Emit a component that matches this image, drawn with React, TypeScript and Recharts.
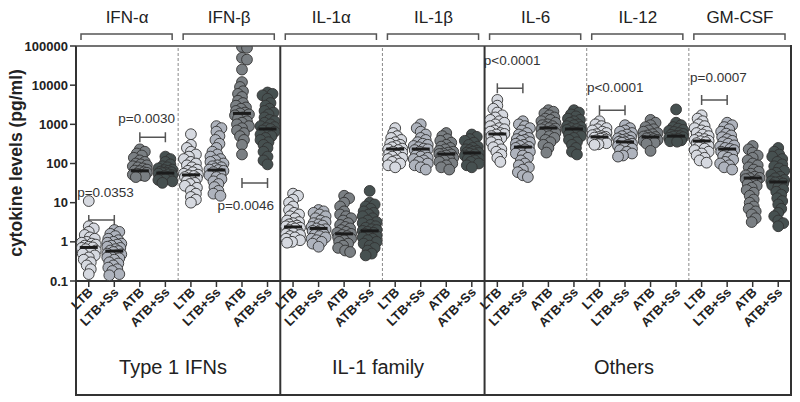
import React from 'react'
import { ScatterChart, Scatter, XAxis, YAxis, ReferenceLine } from 'recharts'

// Cytokine levels (pg/ml) per patient group.
// Each cytokine: [LTB, LTB+Ss, ATB, ATB+Ss]
const GROUPS = ['LTB', 'LTB+Ss', 'ATB', 'ATB+Ss']
const CYTOKINES = ['IFN-α', 'IFN-β', 'IL-1α', 'IL-1β', 'IL-6', 'IL-12', 'GM-CSF']
const FAMILIES = ['Type 1 IFNs', 'IL-1 family', 'Others']
const Y_TICKS = [0.1, 1, 10, 100, 1000, 10000, 100000]

const IFN_A = [
  [11, 2.5, 2.2, 1.8, 1.5, 1.3, 1.2, 1.0, 0.95, 0.9, 0.85, 0.8, 0.75, 0.72, 0.7, 0.65, 0.6, 0.55, 0.5, 0.45, 0.4, 0.35, 0.3, 0.25, 0.2, 0.15],
  [2.0, 1.8, 1.6, 1.4, 1.2, 1.1, 1.0, 0.95, 0.9, 0.85, 0.8, 0.75, 0.7, 0.65, 0.6, 0.58, 0.55, 0.5, 0.48, 0.45, 0.42, 0.4, 0.38, 0.35, 0.3, 0.28, 0.25, 0.22, 0.2, 0.18, 0.15, 0.14],
  [230, 200, 180, 160, 140, 120, 110, 100, 95, 90, 85, 80, 75, 70, 66, 64, 60, 58, 55, 52, 50, 48, 45],
  [150, 130, 110, 95, 85, 80, 75, 70, 68, 65, 62, 60, 58, 57, 55, 53, 50, 48, 45, 42, 40, 38, 35, 32],
]
const IFN_B = [
  [560, 300, 250, 200, 170, 150, 130, 110, 100, 90, 80, 70, 65, 60, 55, 52, 50, 48, 45, 42, 40, 36, 32, 30, 27, 24, 20, 17, 14, 12, 10],
  [900, 800, 650, 500, 400, 320, 250, 200, 170, 150, 130, 120, 110, 100, 90, 85, 80, 75, 70, 68, 65, 60, 55, 50, 45, 40, 35, 30, 25, 20, 17, 15],
  [95000, 90000, 50000, 45000, 25000, 12000, 9000, 7000, 6000, 5000, 4000, 3500, 3000, 2700, 2500, 2200, 2000, 1900, 1800, 1700, 1500, 1400, 1200, 1100, 1000, 900, 800, 700, 600, 500, 400, 300, 170],
  [6500, 6000, 5500, 4500, 3500, 3000, 2500, 2200, 2000, 1800, 1500, 1300, 1200, 1100, 1000, 900, 850, 800, 760, 700, 650, 600, 550, 500, 450, 400, 350, 300, 250, 200, 150, 120, 95],
]
const IL1A = [
  [17, 15, 12, 10, 8, 6.5, 5.5, 5, 4.5, 4, 3.5, 3.2, 3, 2.8, 2.6, 2.5, 2.4, 2.3, 2.2, 2, 1.8, 1.7, 1.6, 1.5, 1.4, 1.3, 1.2, 1.1, 1.0, 0.95],
  [6.5, 6, 5.5, 5, 4.5, 4, 3.5, 3.2, 3, 2.8, 2.6, 2.4, 2.2, 2.1, 2, 1.9, 1.8, 1.6, 1.5, 1.4, 1.3, 1.2, 1.1, 1.0, 0.9, 0.75],
  [15, 13, 10, 8, 6, 5, 4.5, 4, 3.5, 3, 2.7, 2.4, 2.2, 2, 1.8, 1.7, 1.6, 1.5, 1.4, 1.3, 1.2, 1.1, 1, 0.9, 0.8, 0.7, 0.6, 0.55],
  [20, 10, 9, 8, 7, 6, 5.5, 5, 4.5, 4, 3.5, 3.2, 3, 2.7, 2.5, 2.3, 2.1, 2, 1.9, 1.8, 1.7, 1.6, 1.5, 1.4, 1.3, 1.2, 1.1, 1, 0.9, 0.8, 0.7, 0.6, 0.5, 0.45],
]
const IL1B = [
  [800, 600, 500, 450, 400, 350, 320, 300, 280, 260, 240, 230, 220, 200, 190, 180, 160, 150, 140, 130, 120, 110, 100, 90, 80],
  [1000, 800, 650, 550, 450, 400, 350, 320, 300, 280, 260, 240, 230, 220, 200, 180, 160, 150, 140, 130, 120, 110, 100, 90, 80, 70],
  [600, 500, 420, 380, 340, 300, 270, 250, 230, 210, 200, 190, 180, 175, 170, 160, 150, 140, 130, 120, 110, 100, 90, 80, 70],
  [550, 480, 420, 380, 340, 300, 270, 250, 230, 220, 210, 200, 190, 186, 180, 170, 160, 150, 140, 130, 120, 110, 100, 90, 80],
]
const IL6 = [
  [4200, 3000, 2500, 2000, 1700, 1500, 1300, 1200, 1100, 1000, 900, 800, 750, 700, 650, 600, 570, 550, 500, 450, 400, 350, 300, 260, 230, 200, 170, 140, 110],
  [1200, 1000, 900, 800, 700, 600, 550, 500, 450, 420, 400, 380, 350, 320, 300, 280, 265, 250, 230, 210, 200, 180, 160, 140, 120, 100, 90, 80, 70, 60, 50, 45],
  [2300, 2100, 1900, 1700, 1500, 1400, 1300, 1200, 1100, 1000, 950, 900, 850, 800, 780, 750, 700, 650, 600, 550, 500, 450, 400, 350, 300, 250, 190],
  [2300, 2000, 1800, 1600, 1400, 1300, 1200, 1100, 1000, 950, 900, 850, 800, 760, 720, 680, 640, 600, 550, 500, 450, 400, 350, 300, 250, 200, 170],
]
const IL12 = [
  [1200, 1000, 900, 800, 750, 700, 650, 600, 560, 530, 500, 480, 470, 460, 450, 430, 410, 390, 370, 350, 330, 310, 300],
  [950, 800, 700, 650, 600, 550, 500, 470, 440, 420, 400, 380, 360, 350, 340, 320, 300, 280, 260, 240, 220, 200, 180, 160, 150],
  [1300, 1100, 950, 850, 750, 700, 650, 600, 560, 520, 490, 475, 460, 440, 420, 400, 380, 360, 340, 320, 210],
  [2400, 1100, 950, 850, 780, 720, 680, 640, 600, 570, 540, 510, 500, 490, 470, 450, 430, 410, 390, 370, 360],
]
const GMCSF = [
  [1700, 1400, 1200, 1000, 900, 800, 700, 650, 600, 550, 500, 450, 420, 400, 380, 370, 350, 330, 300, 280, 260, 240, 220, 200, 180, 160, 140, 120, 105],
  [1100, 950, 850, 750, 650, 580, 520, 470, 420, 380, 350, 320, 290, 270, 250, 235, 220, 200, 185, 170, 155, 140, 125, 110, 100, 90, 80, 70],
  [280, 230, 190, 160, 140, 120, 100, 90, 80, 70, 62, 55, 50, 46, 43, 42, 40, 37, 34, 30, 27, 24, 21, 18, 15, 12, 10, 8, 7, 6, 5, 4, 3.2],
  [250, 200, 170, 150, 130, 110, 95, 85, 75, 65, 58, 52, 46, 42, 38, 35, 34, 33, 31, 28, 25, 22, 19, 16, 13, 11, 9, 7, 5.5, 4.5, 3.5, 3, 2.5],
]
const ALL = [IFN_A, IFN_B, IL1A, IL1B, IL6, IL12, GMCSF]

// medians as drawn (black bars)
const MEDIANS = [
  [0.72, 0.58, 65, 57],
  [51, 68, 1900, 760],
  [2.4, 2.2, 1.6, 1.9],
  [234, 234, 174, 186],
  [566, 263, 805, 760],
  [475, 355, 475, 500],
  [375, 234, 42.6, 33.7],
]

// significance brackets: category indices and bracket level (pg/ml)
const P_TEXT = ['p=0.0353', 'p=0.0030', 'p=0.0046', 'p<0.0001', 'p<0.0001', 'p=0.0007']
const P_FROM = [0, 2, 6, 16, 20, 24]
const P_TO = [1, 3, 7, 17, 21, 25]
const P_LEVEL = [3.6, 470, 32, 8400, 2300, 4200]

// ---- layout ----
const W = 800
const H = 402
const PLOT_L = 76
const PLOT_T = 46
const PLOT_R = 791
const PLOT_B = 281
const BOX_B = 395
const N_CAT = 28
const CAT_W = (PLOT_R - PLOT_L) / N_CAT
const DECADE_PX = (PLOT_B - PLOT_T) / 6
const FONT = "Arial, 'Liberation Sans', Helvetica, sans-serif"
const FILLS = ['#d6d9e0', '#aeb3bd', '#7a7f83', '#465050']
const P_DX = [4, -6, -9, 2, 3, 4]
const P_DY = [-23, -14, 27, -23, -18, -18]
const FAMILY_X = [173, 378, 624]

const catX = (i: number) => PLOT_L + i * CAT_W

// simple deterministic beeswarm: returns horizontal offsets in px
function swarm(vals: number[]): number[] {
  const ys = vals.map((v) => -Math.log10(v) * DECADE_PX)
  const order = vals.map((_, i) => i).sort((a, b) => ys[a] - ys[b])
  const placed: { x: number; y: number }[] = []
  const out = new Array(vals.length).fill(0)
  const MIN = 5
  const STEP = 1
  const MAX = 7.5
  for (const i of order) {
    let best = 0
    let bestD = -1
    let found = false
    for (let k = 0; k * STEP <= MAX && !found; k++) {
      const cands = k === 0 ? [0] : k % 2 ? [k * STEP, -k * STEP] : [-k * STEP, k * STEP]
      for (const c of cands) {
        let d = Infinity
        for (const p of placed) d = Math.min(d, Math.hypot(p.x - c, p.y - ys[i]))
        if (d >= MIN) {
          best = c
          found = true
          break
        }
        if (d > bestD) {
          bestD = d
          best = c
        }
      }
    }
    placed.push({ x: best, y: ys[i] })
    out[i] = best
  }
  return out
}

const seriesData = GROUPS.map((_, g) =>
  ALL.flatMap((cyto, c) => {
    const vals = cyto[g]
    const offs = swarm(vals)
    return vals.map((v, i) => ({ x: c * 4 + g + 0.5 + offs[i] / CAT_W, y: v }))
  })
)

const medianData = MEDIANS.flatMap((m, c) => m.map((v, g) => ({ x: c * 4 + g + 0.5, y: v })))

const CAT_TICKS = Array.from({ length: N_CAT }, (_, i) => i + 0.5)

const XTick = (props: any) => {
  const { x, payload } = props
  const label = GROUPS[Math.floor(payload.value) % 4]
  const ax = x + 5
  const ay = PLOT_B + 12
  return (
    <text x={ax} y={ay} transform={`rotate(-45 ${ax} ${ay})`} textAnchor="end" fontSize={13} fontWeight="bold" fill="#222" fontFamily={FONT}>
      {label}
    </text>
  )
}

const dotShape = (fill: string) => (p: any) => (
  <circle cx={p.cx} cy={p.cy} r={5.4} fill={fill} stroke="#333" strokeWidth={0.9} />
)

const medianShape = (p: any) => <rect x={p.cx - 9} y={p.cy - 1.5} width={18} height={3} fill="#1b1b1b" />

const bracketShape = (idx: number) => (p: any) => {
  const { x1, y1, x2 } = p
  const cx = (x1 + x2) / 2
  return (
    <g>
      <path d={`M${x1},${y1 - 5}V${y1 + 5}M${x1},${y1}H${x2}M${x2},${y1 - 5}V${y1 + 5}`} stroke="#555" strokeWidth={1.5} fill="none" />
      <text x={cx + P_DX[idx]} y={y1 + P_DY[idx]} textAnchor="middle" fontSize={13.5} fill="#333" fontFamily={FONT}>
        {P_TEXT[idx]}
      </text>
    </g>
  )
}

export default function App() {
  return (
    <div style={{ position: 'absolute', left: 0, top: 0, width: W, height: H, background: '#fff', fontFamily: FONT }}>
      <ScatterChart width={W} height={H} margin={{ top: PLOT_T, right: W - PLOT_R, bottom: 0, left: 0 }}>
        <XAxis
          type="number"
          dataKey="x"
          domain={[0, N_CAT]}
          ticks={CAT_TICKS}
          allowDataOverflow
          height={H - PLOT_B}
          tick={<XTick />}
          tickSize={6}
          axisLine={{ stroke: '#333', strokeWidth: 2 }}
          tickLine={{ stroke: '#333', strokeWidth: 1.5 }}
          interval={0}
        />
        <YAxis
          type="number"
          dataKey="y"
          scale="log"
          domain={[0.1, 100000]}
          ticks={Y_TICKS}
          allowDataOverflow
          width={PLOT_L}
          tickSize={6}
          tickMargin={2}
          tick={{ fontSize: 13, fontWeight: 'bold', fill: '#222', fontFamily: FONT }}
          axisLine={{ stroke: '#333', strokeWidth: 2 }}
          tickLine={{ stroke: '#333', strokeWidth: 1.5 }}
          interval={0}
        />
        {[4, 12, 20, 24].map((b) => (
          <ReferenceLine key={'d' + b} x={b} stroke="#8a8a8a" strokeWidth={1} strokeDasharray="3 2" />
        ))}
        {[8, 16].map((b) => (
          <ReferenceLine key={'s' + b} x={b} stroke="#333" strokeWidth={2} />
        ))}
        {GROUPS.map((gname, g) => (
          <Scatter key={gname} name={gname} data={seriesData[g]} shape={dotShape(FILLS[g])} isAnimationActive={false} />
        ))}
        <Scatter name="median" data={medianData} shape={medianShape} isAnimationActive={false} />
        {P_TEXT.map((t, i) => (
          <ReferenceLine
            key={'p' + i}
            segment={[
              { x: P_FROM[i] + 0.5, y: P_LEVEL[i] },
              { x: P_TO[i] + 0.5, y: P_LEVEL[i] },
            ]}
            shape={bracketShape(i)}
            ifOverflow="visible"
          />
        ))}
      </ScatterChart>
      <svg width={W} height={H} style={{ position: 'absolute', left: 0, top: 0, pointerEvents: 'none' }}>
        <path d={`M${PLOT_L},${PLOT_T}H${PLOT_R}`} stroke="#444" strokeWidth={1.5} fill="none" />
        <path d={`M${PLOT_R},${PLOT_T - 1}V${BOX_B}H${PLOT_L}V${PLOT_B}`} stroke="#333" strokeWidth={2} fill="none" />
        {[8, 16].map((b) => (
          <path key={b} d={`M${catX(b)},${PLOT_B}V${BOX_B}`} stroke="#333" strokeWidth={2} />
        ))}
        {CYTOKINES.map((name, c) => {
          const x1 = catX(c * 4) + 5
          const x2 = catX(c * 4 + 4) - 6
          return (
            <g key={name}>
              <path d={`M${x1},40V34H${x2}V40`} stroke="#555" strokeWidth={1.5} fill="none" />
              <text x={(catX(c * 4) + catX(c * 4 + 4)) / 2} y={23} textAnchor="middle" fontSize={17} fill="#222">
                {name}
              </text>
            </g>
          )
        })}
        {FAMILIES.map((f, i) => (
          <text key={f} x={FAMILY_X[i]} y={374} textAnchor="middle" fontSize={20} fill="#222">
            {f}
          </text>
        ))}
        <text x={22} y={163} transform="rotate(-90 22 163)" textAnchor="middle" fontSize={17.5} fontWeight="bold" fill="#222">
          cytokine levels (pg/ml)
        </text>
      </svg>
    </div>
  )
}
